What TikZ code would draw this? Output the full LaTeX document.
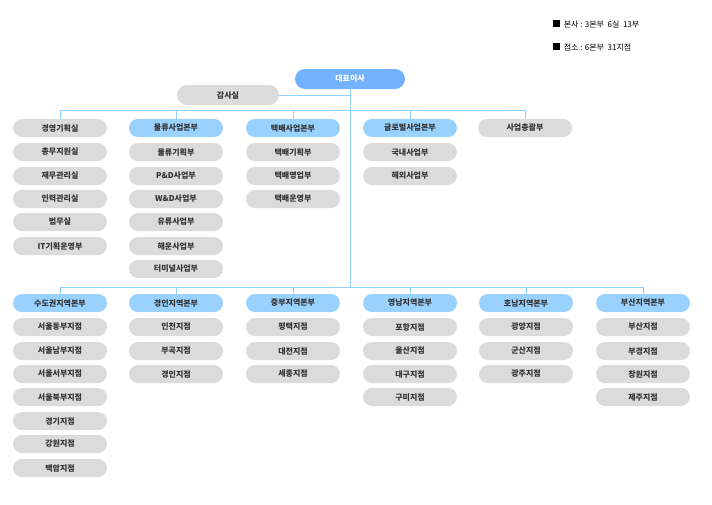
\documentclass[tikz,border=0pt]{standalone}
\usepackage{fontspec}
\setmainfont{Noto Sans CJK KR}
\newfontfamily\kb{Noto Sans CJK KR Bold}
\begin{document}
\begin{tikzpicture}[x=1pt,y=-1pt,
  gbox/.style={rounded corners=9pt,fill=gray!28,minimum width=94pt,minimum height=18pt,inner sep=0pt,font=\fontsize{8}{9}\selectfont\bfseries,text=black!80},
  bbox/.style={gbox,fill=blue!45!cyan!40!white},
  ln/.style={draw=blue!40!cyan!45!white,line width=0.8pt}]
\useasboundingbox (0,0) rectangle (712,504);
\node[gbox,fill=blue!55!cyan!55!white,text=white,minimum width=110pt,minimum height=20pt,rounded corners=10pt] (ceo) at (350,79) {대표이사};
\node[gbox,minimum width=102pt,minimum height=20pt,rounded corners=10pt] (audit) at (228,95) {감사실};
\coordinate (t1) at (350,110); \coordinate (t2) at (350,287);
\draw[ln] (audit.east) -- (audit.east -| ceo.south);
\draw[ln] (ceo.south) -- (t2);
% row 1
\foreach \x/\n in {60/a,176/b,293/c,410/d,525/e}{\coordinate (h\n) at (\x,110);}
\draw[ln] (ha) -- (he);
\node[gbox] (a1) at (60,128) {경영기획실};
\node[gbox] (a2) at (60,152) {총무지원실};
\node[gbox] (a3) at (60,176) {재무관리실};
\node[gbox] (a4) at (60,199) {인력관리실};
\node[gbox] (a5) at (60,222) {법무실};
\node[gbox] (a6) at (60,246) {IT기획운영부};
\node[bbox] (b1) at (176,128) {물류사업본부};
\node[gbox] (b2) at (176,152) {물류기획부};
\node[gbox] (b3) at (176,176) {P\&D사업부};
\node[gbox] (b4) at (176,199) {W\&D사업부};
\node[gbox] (b5) at (176,222) {유류사업부};
\node[gbox] (b6) at (176,246) {해운사업부};
\node[gbox] (b7) at (176,269) {터미널사업부};
\node[bbox] (c1) at (293,128) {택배사업본부};
\node[gbox] (c2) at (293,152) {택배기획부};
\node[gbox] (c3) at (293,176) {택배영업부};
\node[gbox] (c4) at (293,199) {택배운영부};
\node[bbox] (d1) at (410,128) {글로벌사업본부};
\node[gbox] (d2) at (410,152) {국내사업부};
\node[gbox] (d3) at (410,176) {해외사업부};
\node[gbox] (e1) at (525,128) {사업총괄부};
\foreach \n in {a,b,c,d,e}{\draw[ln] (h\n) -- (\n1.north);}
% row 2
\foreach \x/\n in {60/p,176/q,293/r,410/s,526/u,643/v}{\coordinate (k\n) at (\x,287);}
\draw[ln] (kp) -- (kv);
\node[bbox] (p1) at (60,303) {수도권지역본부};
\node[gbox] (p2) at (60,327) {서울동부지점};
\node[gbox] (p3) at (60,351) {서울남부지점};
\node[gbox] (p4) at (60,374) {서울서부지점};
\node[gbox] (p5) at (60,397) {서울북부지점};
\node[gbox] (p6) at (60,421) {경기지점};
\node[gbox] (p7) at (60,444) {강원지점};
\node[gbox] (p8) at (60,468) {백암지점};
\node[bbox] (q1) at (176,303) {경인지역본부};
\node[gbox] (q2) at (176,327) {인천지점};
\node[gbox] (q3) at (176,351) {부곡지점};
\node[gbox] (q4) at (176,374) {경인지점};
\node[bbox] (r1) at (293,303) {중부지역본부};
\node[gbox] (r2) at (293,327) {평택지점};
\node[gbox] (r3) at (293,351) {대전지점};
\node[gbox] (r4) at (293,374) {세종지점};
\node[bbox] (s1) at (410,303) {영남지역본부};
\node[gbox] (s2) at (410,327) {포항지점};
\node[gbox] (s3) at (410,351) {울산지점};
\node[gbox] (s4) at (410,374) {대구지점};
\node[gbox] (s5) at (410,397) {구미지점};
\node[bbox] (u1) at (526,303) {호남지역본부};
\node[gbox] (u2) at (526,327) {광양지점};
\node[gbox] (u3) at (526,351) {군산지점};
\node[gbox] (u4) at (526,374) {광주지점};
\node[bbox] (v1) at (643,303) {부산지역본부};
\node[gbox] (v2) at (643,327) {부산지점};
\node[gbox] (v3) at (643,351) {부경지점};
\node[gbox] (v4) at (643,374) {창원지점};
\node[gbox] (v5) at (643,397) {제주지점};
\foreach \n in {p,q,r,s,u,v}{\draw[ln] (k\n) -- (\n1.north);}
% legend
\node[anchor=west,font=\fontsize{8}{9}\selectfont,inner sep=0pt] (l1) at (553,24) {\rule{7pt}{7pt}\ \ 본사 : 3본부\ \ 6실\ \ 13부};
\node[anchor=west,font=\fontsize{8}{9}\selectfont,inner sep=0pt] (l2) at (553,47) {\rule{7pt}{7pt}\ \ 점소 : 6본부\ \ 31지점};
\end{tikzpicture}
\end{document}
